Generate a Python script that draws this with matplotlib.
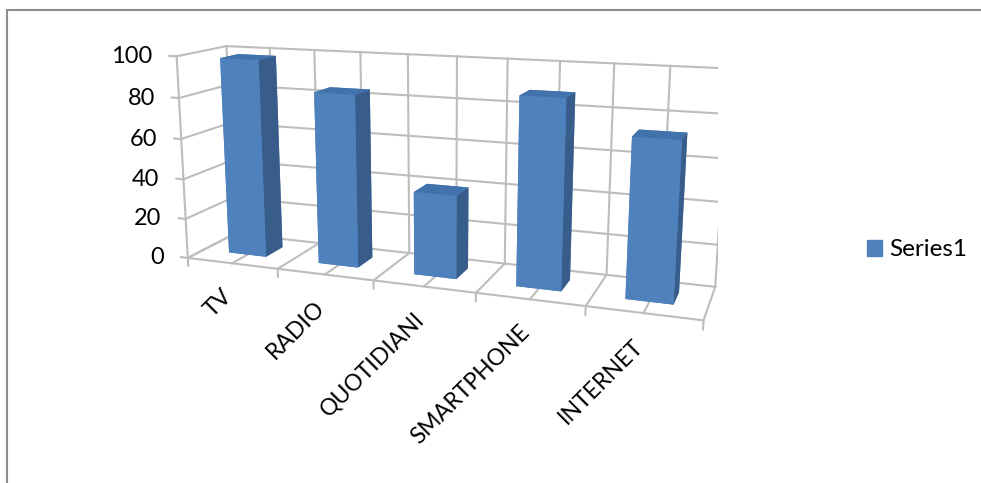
import matplotlib
matplotlib.use("Agg")
import matplotlib.pyplot as plt
from matplotlib.patches import Patch
from matplotlib.lines import Line2D
from mpl_toolkits.mplot3d import proj3d
import numpy as np

plt.rcParams['font.family'] = ['Lato', 'DejaVu Sans']

categories = ["TV", "RADIO", "QUOTIDIANI", "SMARTPHONE", "INTERNET"]
values = [98, 84, 40, 88, 73]
value_ticks = [0, 20, 40, 60, 80, 100]
series_name = "Series1"

FRONT = "#4F81BD"
TOP = "#4272AC"
SIDE = "#385D8A"
GRID = "#BDBDBD"

W, H = 981, 483
fig = plt.figure(figsize=(W / 100, H / 100), dpi=100)

# chart border (only left and top visible)
fig.add_artist(Line2D([7 / W, 7 / W], [0, 1 - 10 / H], color="#8C8C8C", lw=1.5))
fig.add_artist(Line2D([7 / W, 1], [1 - 10 / H, 1 - 10 / H], color="#8C8C8C", lw=1.5))

S = 570
cx, cy = 433, 177
ax = fig.add_axes([(cx - S / 2) / W, 1 - (cy + S / 2) / H, S / W, S / H],
                  projection="3d", computed_zorder=False)
ax.set_proj_type("persp", focal_length=0.35)
ax.view_init(elev=13, azim=-70)
ax.set_box_aspect((5, 0.9, 2.0), zoom=1.0)
ax.set_axis_off()

n = len(categories)
ax.set_xlim(0, n)
ax.set_ylim(0, 1)
ax.set_zlim(0, 100)

gkw = dict(color=GRID, lw=1.5, zorder=1)
# back wall
for xv in np.arange(0, n + 0.01, 0.5):
    ax.plot([xv, xv], [1, 1], [0, 100], **gkw)
for v in value_ticks:
    ax.plot([0, n], [1, 1], [v, v], **gkw)
# left wall
ax.plot([0, 0], [0, 0], [0, 100], **gkw)
for v in value_ticks:
    ax.plot([0, 0], [0, 1], [v, v], **gkw)
# floor
ax.plot([0, n], [0, 0], [0, 0], **gkw)
for xv in np.arange(0, n + 0.01, 0.5):
    ax.plot([xv, xv], [0, 1], [0, 0], **gkw)
# tick marks
for xv in range(n + 1):
    ax.plot([xv, xv], [0, 0], [0, -4], **gkw)
for v in value_ticks:
    ax.plot([0, -0.08], [0, 0], [v, v], **gkw)

# bars
bw, bd = 0.42, 0.38
xs = np.arange(n) + 0.5 - bw / 2
ys = np.full(n, 0.52 - bd / 2)
face_colors = []
for _ in range(n):
    # bottom, top, front, back, left, right
    face_colors += [FRONT, TOP, FRONT, FRONT, FRONT, SIDE]
ax.bar3d(xs, ys, np.zeros(n), bw, bd, values, color=face_colors,
         shade=False, zorder=3, linewidth=0)


def to2d(x, y, z):
    x2, y2, _ = proj3d.proj_transform(x, y, z, ax.get_proj())
    return x2, y2


for v in value_ticks:
    ax.annotate(str(v), to2d(0, 0, v), xytext=(-24, 0), textcoords="offset pixels",
                ha="right", va="center", fontsize=17, zorder=5)
for i, c in enumerate(categories):
    ax.annotate(c, to2d(i + 0.5, 0, 0), xytext=(4, -22), textcoords="offset pixels",
                rotation=45, ha="right", va="top", fontsize=16.5, zorder=5)

fig.legend(handles=[Patch(color=FRONT, label=series_name)],
           loc="center left", bbox_to_anchor=(845 / W, 1 - 250 / H),
           frameon=False, fontsize=17.5, handlelength=0.62, handleheight=0.62,
           handletextpad=0.3)

fig.savefig("out.png", dpi=100)
